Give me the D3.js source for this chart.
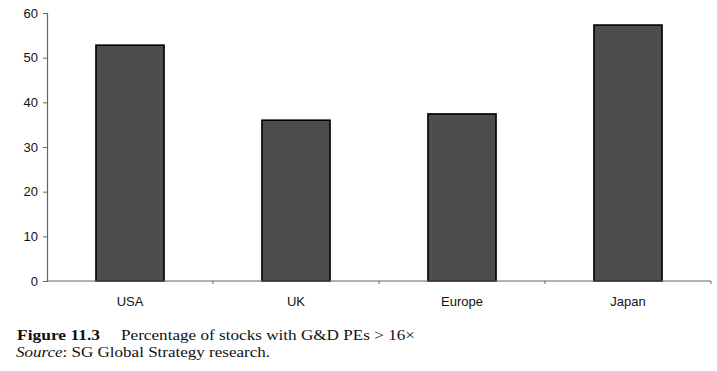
<!DOCTYPE html>
<html><head><meta charset="utf-8">
<script src="https://cdn.jsdelivr.net/npm/d3@7"></script>
<style>body{margin:0;background:#fff}</style>
</head><body>
<svg id="c" width="717" height="371"></svg>
<script>
const categories = ["USA", "UK", "Europe", "Japan"];
const values = [52.8, 36.0, 37.4, 57.3];
const yTicks = [0, 10, 20, 30, 40, 50, 60];

const svg = d3.select("#c");
const x = d3.scaleBand().domain(categories).range([47, 711]).paddingInner(0.59).paddingOuter(0.295);
const y = d3.scaleLinear().domain([0, 60]).range([281, 13]);

svg.append("g").selectAll("rect").data(values).join("rect")
  .attr("x", (d, i) => x(categories[i]))
  .attr("y", d => y(d))
  .attr("width", x.bandwidth())
  .attr("height", d => y(0) - y(d))
  .attr("fill", "#4d4d4d").attr("stroke", "#000").attr("stroke-width", 1.6);

const yAxis = svg.append("g").attr("transform", "translate(47,0)")
  .call(d3.axisLeft(y).tickValues(yTicks).tickSize(4).tickPadding(5));
yAxis.select(".domain").attr("stroke", "#666").attr("stroke-width", 1.2);
yAxis.selectAll(".tick line").attr("stroke", "#666");
yAxis.selectAll("text").attr("font-family", "Liberation Sans, Arial, sans-serif").attr("font-size", 13).attr("fill", "#111");

const xs = d3.scaleLinear().domain([0, 4]).range([47, 711]);
const xAxis = svg.append("g").attr("transform", "translate(0,281)");
xAxis.append("line").attr("x1", 47).attr("x2", 711).attr("stroke", "#666").attr("stroke-width", 1.2);
xAxis.selectAll("line.t").data([1, 2, 3, 4]).join("line").attr("class", "t")
  .attr("x1", d => xs(d)).attr("x2", d => xs(d)).attr("y1", 0).attr("y2", 3).attr("stroke", "#666");
xAxis.selectAll("text").data(categories).join("text")
  .attr("x", d => x(d) + x.bandwidth() / 2).attr("y", 25)
  .attr("text-anchor", "middle")
  .attr("font-family", "Liberation Sans, Arial, sans-serif").attr("font-size", 13).attr("fill", "#111")
  .text(d => d);

const cap = svg.append("g").attr("font-family", "Liberation Serif, Times New Roman, serif").attr("font-size", 14.5).attr("fill", "#111");
cap.append("text").attr("x", 17).attr("y", 340).attr("font-weight", "bold")
  .attr("textLength", 83).attr("lengthAdjust", "spacingAndGlyphs").text("Figure  11.3");
cap.append("text").attr("x", 121).attr("y", 340)
  .attr("textLength", 294).attr("lengthAdjust", "spacingAndGlyphs").text("Percentage of stocks with G&D PEs > 16×");
const t2 = cap.append("text").attr("x", 16).attr("y", 357)
  .attr("textLength", 254).attr("lengthAdjust", "spacingAndGlyphs");
t2.append("tspan").attr("font-style", "italic").text("Source");
t2.append("tspan").text(": SG Global Strategy research.");
</script>
</body></html>
